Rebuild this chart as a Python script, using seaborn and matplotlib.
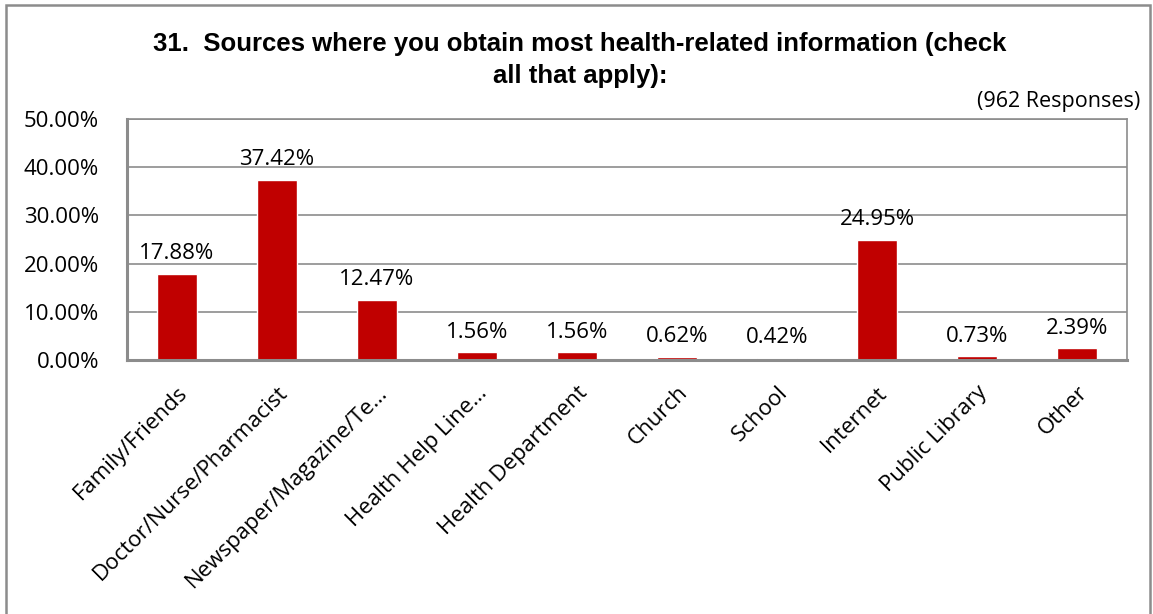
import matplotlib
matplotlib.use("Agg")
import matplotlib.pyplot as plt
import seaborn as sns
import pandas as pd
from matplotlib.patches import Rectangle

# values
sources = ["Family/Friends", "Doctor/Nurse/Pharmacist", "Newspaper/Magazine/Te…",
           "Health Help Line…", "Health Department", "Church", "School",
           "Internet", "Public Library", "Other"]
percent = [17.88, 37.42, 12.47, 1.56, 1.56, 0.62, 0.42, 24.95, 0.73, 2.39]
yticks = [0, 10, 20, 30, 40, 50]

df = pd.DataFrame({"source": sources, "pct": percent})

sns.set_style("white")
plt.rcParams["font.family"] = ["Open Sans", "DejaVu Sans"]
plt.rcParams["text.color"] = "black"
plt.rcParams["xtick.color"] = "black"
plt.rcParams["ytick.color"] = "black"

fig = plt.figure(figsize=(11.53, 6.14), dpi=100)
ax = fig.add_axes([0.110, 0.4137, 0.8675, 0.3925])

sns.barplot(data=df, x="source", y="pct", color="#C00000", width=0.4,
            saturation=1, ax=ax)

ax.set_xlim(-0.5, len(sources) - 0.5)
ax.set_ylim(0, 50)
ax.set_yticks(yticks)
ax.set_yticklabels([f"{v:.2f}%" for v in yticks], fontsize=16)
ax.yaxis.grid(True, color="#8c8c8c", linewidth=1.2)
ax.set_axisbelow(True)
ax.tick_params(axis="y", length=0, pad=20, labelcolor="black")

ax.set_xticks(range(len(sources)))
ax.set_xticklabels(sources, rotation=45, ha="right", rotation_mode="anchor",
                   fontsize=16)
ax.tick_params(axis="x", which="major", length=0, pad=16, labelcolor="black")
ax.set_xticks([i + 0.5 for i in range(len(sources) - 1)], minor=True)
ax.tick_params(axis="x", which="minor", direction="in", length=6,
               width=1.5, color="#8c8c8c")
ax.set_xlabel("")
ax.set_ylabel("")

for side in ["left", "bottom"]:
    ax.spines[side].set_color("#8c8c8c")
    ax.spines[side].set_linewidth(2.2)
for side in ["top", "right"]:
    ax.spines[side].set_color("#8c8c8c")
    ax.spines[side].set_linewidth(1.2)

for i, v in enumerate(percent):
    ax.text(i, v + 2.0, f"{v:.2f}%", ha="center", va="bottom", fontsize=16)

fig.text(0.503, 0.928, "31.  Sources where you obtain most health-related information (check",
         ha="center", va="center", fontsize=18.5, fontweight="bold",
         family="Liberation Sans")
fig.text(0.503, 0.876, "all that apply):", ha="center", va="center",
         fontsize=18.5, fontweight="bold", family="Liberation Sans")
fig.text(0.989, 0.834, "(962 Responses)", ha="right", va="center", fontsize=15.5)

fig.patches.append(Rectangle((0.005, -0.01), 0.992, 1.002, transform=fig.transFigure,
                             fill=False, edgecolor="#8c8c8c", linewidth=1.8))

fig.savefig("out.png", dpi=100)
